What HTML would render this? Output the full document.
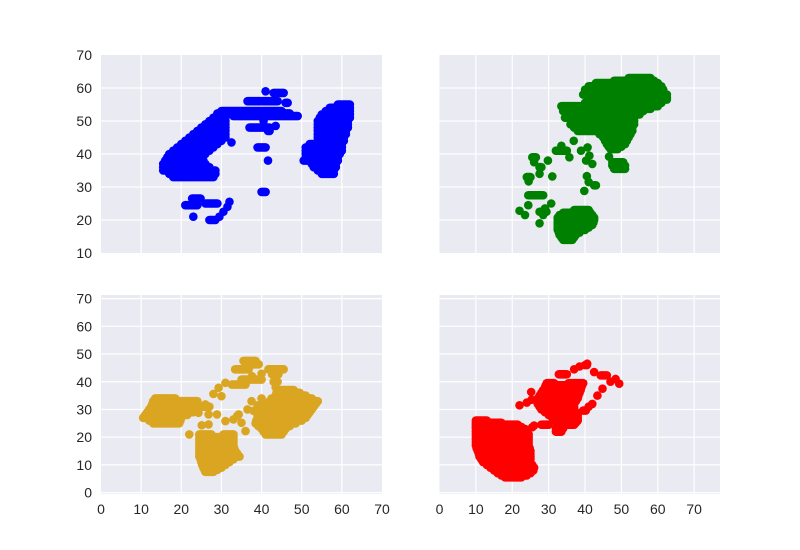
<!DOCTYPE html>
<html><head><meta charset="utf-8">
<style>
html,body{margin:0;padding:0;background:#fff;}
svg{display:block;font-family:"Liberation Sans",Arial,sans-serif;}
</style></head>
<body>
<svg id="chart" width="800" height="550" xmlns="http://www.w3.org/2000/svg"></svg>
<script>
// Each entry: [y, xStart, xEnd] — a horizontal run of overlapping markers (xStart==xEnd is a single point)
const blueRuns = [
 [33,18,28],[34,17,28.5],[35,15.5,28.5],[36,15.5,27],[37,15.5,26],[38,16,25.5],[39,16.5,25],[40,17,26],[41,18,27],[42,19,28],[43,20,29],[44,21,30],[45,22,31],[46,23,31],[47,24,31],[48,25,31],[49,26,31],[50,27,31],[51,28,31],
 [51.5,33,49],[52.3,29,47],[53,30,45],[56,36.5,44],[58.5,43,45.5],[59,41,41],[55.5,46,46.5],
 [48.5,43.5,43.5],[48,37,42],[50,40.5,40.5],[47,41.6,42],[43.5,32.5,32.5],[42,39,41],[38,41.6,41.6],[28.5,40,41],
 [24.5,21,24],[26.5,22.7,24.8],[21,23,23],[25,26,29],[20,27,28.5],[21,29.5,29.5],[22.5,30.5,30.5],[24,31.5,31.5],[25.5,32,32],
 [34,55,58],[35,54,58],[36,53,58.5],[37,52.5,58.5],[38,50.5,59],[39,51,59],[40,51,59.5],[41,51,60],[42,51,60],[43,52,60],[44,54,60.5],[45,54,60.5],[46,54,61],[47,54,61],[48,54,61.5],[49,54,61.5],[50,54,61.5],[51,54.5,62],[52,55,62],[53,56,62],[54,57,62],[55,59,62]
];
const greenRuns = [
 [63,52,58],[62.2,48,59],[61.5,43,60],[60.5,41,61],[59.5,40,61.5],[58,39.5,62.5],[57.2,43,62.5],[56.5,45,62.5],[55.5,40,61],[54.5,33.5,60],[53.7,34,58],[53,34,56],[52,38,55],[51,34.5,53.5],[50,37,53.5],[49,36,53.5],[48,37,53],[47,38,53],[46,44,52.5],[45,45,52],[44,45.5,51.5],[43,46,51],[42.2,46.5,50],[41.5,47,49],
 [37.5,47.5,50.5],[36.5,47.5,51],[35.5,48,51],[39.2,46.6,46.6],
 [41,38.9,38.9],[42,40.7,40.7],[39.5,41.2,41.2],[37,42,42],[38,40.3,40.3],
 [39,35.7,35.7],[44,36.9,36.9],[42.5,33.5,33.5],[41,32,35],
 [39,25.5,26.5],[37.5,26,26],[36,27.5,28],[34,27.5,27.5],[38,29.8,29.8],[33,24,25],[31.7,24.5,24.5],[33.2,31,31],
 [33.3,40.5,40.5],[31.5,41,41],[30.5,42.5,43],[28.8,39.8,39.8],
 [27.5,24.4,28.5],[22.8,22,22],[21.5,23.5,23.5],[24.5,24.4,24.4],[22.5,27.5,29.4],[23.5,29,29],[25,30.7,30.7],[19,27.5,27.5],[21.5,28.5,28.5],
 [23,37,41],[22.2,34,41.5],[21.5,33,42],[20.7,32.5,42.5],[20,32.5,42.5],[19.2,32.5,42.3],[18.5,32.5,42],[17.7,32.5,41],[17,32.5,40],[16.2,32.8,38.5],[15.5,33,37.5],[14.7,33.5,37],[14,34,36.5]
];
const goldRuns = [
 [34,13.5,18.5],[33,13,24],[32,12.8,23.8],[31,12.5,23.5],[30,12,23.2],[29,11.5,23],[28,11,21.5],[27,10.5,20],[26,12,19.8],[25,13,19.5],
 [31.8,26,26],[28.8,24.3,24.3],[28.2,26.8,26.8],[31,24.5,27],
 [21,24.5,27.5],[21,30.5,33],[20,24.5,33],[19,24.5,33],[18,24.5,33],[17,24.5,33],[16,24.5,33.2],[15,24.5,33.5],[14,24.5,34],[13,24.5,34.5],[12,24.8,33],[11,25,32],[10,25.2,31],[9,25.5,30],[8.2,25.8,29],[7.5,26,28],
 [24.6,26.8,26.8],[28.2,28.9,28.9],[25.8,31,31],[26.4,33,33],[28.2,34.3,34.3],[22.2,36,36],[25.2,35,35],[24.3,25.1,25.1],[21,22,22],
 [39.6,31,31],[37.8,29.3,29.3],[35.6,28,28],[34.8,30,30],
 [47.5,35.5,38.5],[46.3,36,39.3],[44.5,33.4,36.8],[39,32.6,36],[40.8,35,40],[42,37.6,37.6],[42.9,40,40],
 [44.5,41.7,45.5],[42.7,42.6,44.2],[40,43,44],[38,43.5,43.5],
 [37,44,48],[36,43.7,49.5],[35,43.5,51],[34,42.5,52.5],[33,42,54],[32,41,53.5],[31,40,53],[30,39.5,52.5],[29,39,52],[28,39,51.5],[27,39,51],[26,38.7,50],[25,38.5,48.5],[24,39.2,47],[23,40,46],[22,40.5,45.5],[21,41,45],
 [33,37.5,37.5],[31.5,39,39],[29.5,38,38],[30,36.5,36.5],[34,40,40],[27.6,33.9,33.9]
];
const redRuns = [
 [26,10,13],[25.2,10,17],[24.5,10,21.5],[23.7,10,22.5],[23,10,23.5],[22,10,24],[21,10,24.5],[20,10,24.5],[19,10,24.5],[18,10,24.5],[17,10,24.5],[16,10.2,24.8],[15,10.5,25],[14,10.8,25],[13,11,25],[12,11.5,25],[11,12,25],[10,13,25.5],[9,14,26],[8,15,25.8],[7,16,25],[6.2,17,24],[5.5,18,22.5],
 [23.6,25.5,25.5],[24.2,26,26],
 [31.5,22,22],[32.5,24,24],[33.5,25.3,25.3],[36.3,25.2,25.2],
 [39.5,29.5,31.5],[39.5,35.5,39.5],[38.7,29.2,39.2],[38,29,39],[37,28.5,38.8],[36,28,38.5],[35,27.5,38.2],[34,27,38],[33,27,37.5],[32,27,37],[31,27.5,37],[30,28,37],[29.6,39.5,40.2],[29,29,37.5],[28,30,38],[27,31,38],[26,32,38],[24.5,28,30],[25.2,32.2,37.5],[24.5,32.5,37],[23.2,32,34],[22,32,33.5],
 [42.7,32.8,35],[44.5,37,37],[45.5,38.5,38.5],[46,40,40.5],[46.5,40.6,40.6],
 [42.3,44.3,46],[43.5,42.5,42.5],[41,48.4,48.4],[39.3,49.4,49.4],[40,47,47],[37.5,44.8,44.8],[35,43.4,43.4],[32,42,42],[31,41,41]
];
const xTicks = [0,10,20,30,40,50,60,70];
const yTicksTop = [10,20,30,40,50,60,70];
const yTicksBottom = [0,10,20,30,40,50,60,70];

const NS = "http://www.w3.org/2000/svg";
const svg = document.getElementById('chart');
function mk(tag, attrs, parent){const e=document.createElementNS(NS,tag);for(const k in attrs)e.setAttribute(k,attrs[k]);(parent||svg).appendChild(e);return e;}

const panels = [
 {name:'top-left', runs:blueRuns, color:'#0000ff', px:[101,382], py:[55,253], xd:[0,70], yd:[10,70], yt:yTicksTop, showX:false, showY:true},
 {name:'top-right', runs:greenRuns, color:'#008000', px:[439.5,720], py:[55,253], xd:[0,77.1], yd:[10,70], yt:yTicksTop, showX:false, showY:false},
 {name:'bottom-left', runs:goldRuns, color:'#daa520', px:[101,382], py:[295,494], xd:[0,70], yd:[-0.5,71.3], yt:yTicksBottom, showX:true, showY:true},
 {name:'bottom-right', runs:redRuns, color:'#ff0000', px:[439.5,720], py:[295,494], xd:[0,77.1], yd:[-0.5,71.3], yt:yTicksBottom, showX:true, showY:false}
];

panels.forEach(p=>{
  const sx = v => p.px[0] + (v-p.xd[0])/(p.xd[1]-p.xd[0])*(p.px[1]-p.px[0]);
  const sy = v => p.py[1] - (v-p.yd[0])/(p.yd[1]-p.yd[0])*(p.py[1]-p.py[0]);
  const g = mk('g',{});
  
  
  const bg = mk('rect',{x:p.px[0],y:p.py[0],width:p.px[1]-p.px[0],height:p.py[1]-p.py[0],fill:'#eaeaf2'},g);
  
  
  xTicks.forEach(t=>{
    const x=sx(t);
    if(x>p.px[0]+0.5 && x<p.px[1]-0.5){
      const l=mk('line',{x1:x,x2:x,y1:p.py[0],y2:p.py[1],stroke:'#fff','stroke-width':1.2},g);
      
      
    }
    if(p.showX){
      const tx=mk('text',{x:x,y:p.py[1]+20,'text-anchor':'middle','font-size':14,fill:'#262626'},g);
      tx.textContent=t;
      
      
    }
  });
  p.yt.forEach(t=>{
    const y=sy(t);
    if(y>p.py[0]+0.5 && y<p.py[1]-0.5){
      const l=mk('line',{x1:p.px[0],x2:p.px[1],y1:y,y2:y,stroke:'#fff','stroke-width':1.2},g);
      
      
    }
    if(p.showY){
      const ty=mk('text',{x:p.px[0]-9,y:Math.min(Math.max(y,p.py[0]),p.py[1])+5,'text-anchor':'end','font-size':14,fill:'#262626'},g);
      ty.textContent=t;
      
      
    }
  });
  const clipId='clip-'+p.name;
  const cp=mk('clipPath',{id:clipId},g);
  mk('rect',{x:p.px[0],y:p.py[0],width:p.px[1]-p.px[0],height:p.py[1]-p.py[0]},cp);
  const mg=mk('g',{'clip-path':'url(#'+clipId+')'},g);
  
  
  p.runs.forEach(r=>{
    const l=mk('line',{x1:sx(r[1]),x2:sx(r[2]),y1:sy(r[0]),y2:sy(r[0]),stroke:p.color,'stroke-width':8.6,'stroke-linecap':'round'},mg);
    
    
  });
});
</script>
</body></html>
